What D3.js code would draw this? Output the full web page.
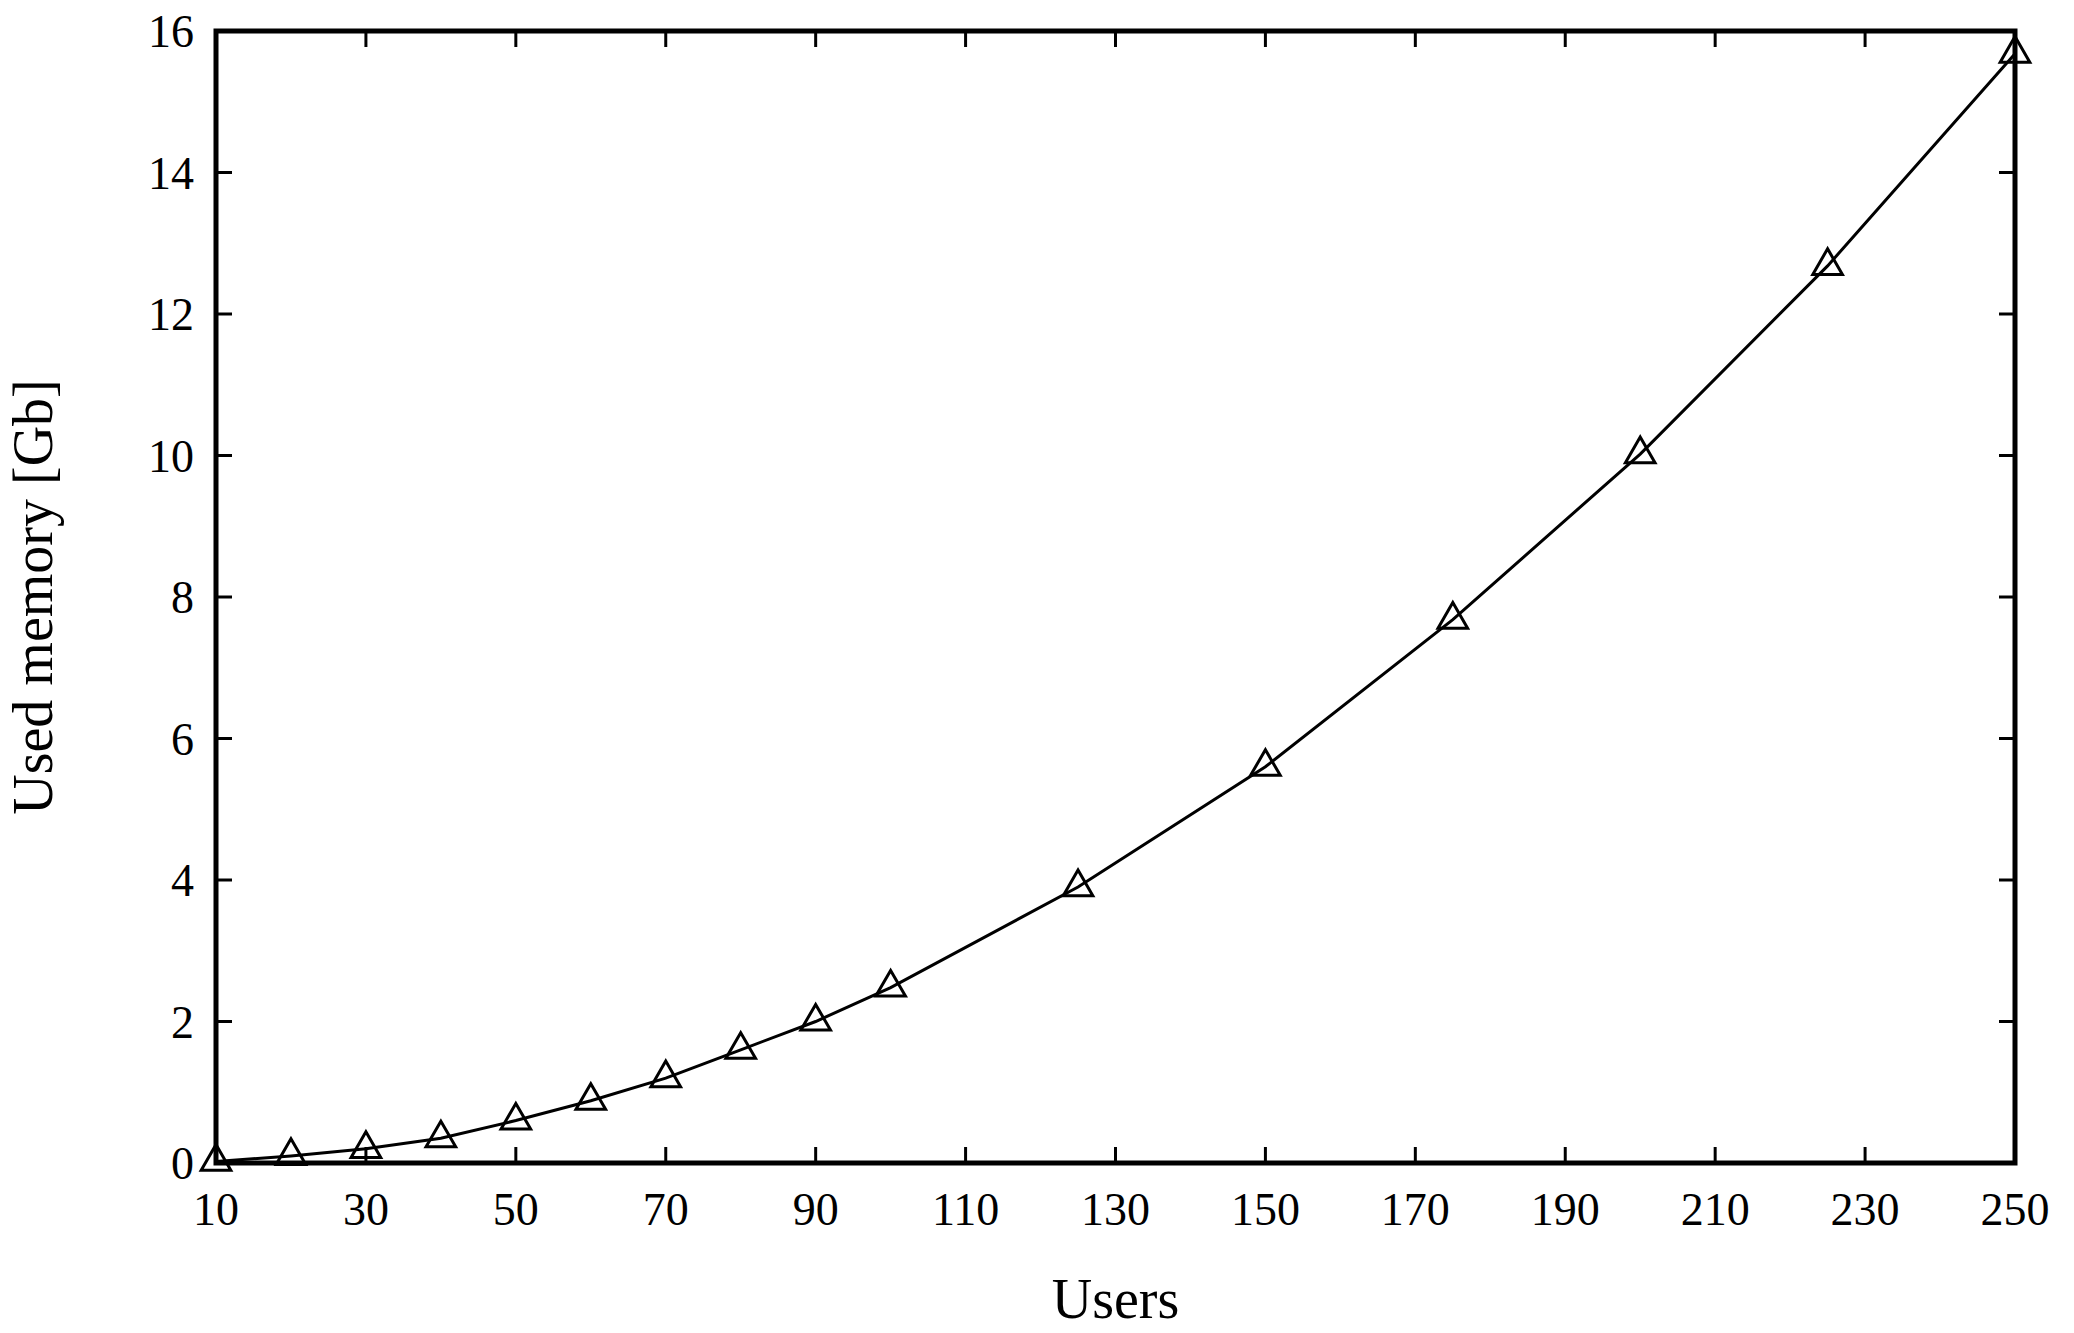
<!DOCTYPE html>
<html><head><meta charset="utf-8">
<script src="https://cdn.jsdelivr.net/npm/d3@7"></script>
<style>body{margin:0;background:#fff}</style>
</head><body>
<svg id="chart" width="2074" height="1333"></svg>
<script>
const users = [10, 20, 30, 40, 50, 60, 70, 80, 90, 100, 125, 150, 175, 200, 225, 250];
const memory = [0.02, 0.1, 0.2, 0.35, 0.6, 0.88, 1.2, 1.6, 2.0, 2.48, 3.9, 5.6, 7.68, 10.02, 12.68, 15.68];
const xTicks = d3.range(10, 251, 20);
const yTicks = d3.range(0, 17, 2);

const m = { left: 216, right: 2015, top: 31, bottom: 1163 };
const svg = d3.select("#chart").style("font-family", "'Liberation Serif', serif");
const x = d3.scaleLinear().domain([10, 250]).range([m.left, m.right]);
const y = d3.scaleLinear().domain([0, 16]).range([m.bottom, m.top]);
const tl = 16;

// inward ticks on all four sides
const g = svg.append("g").attr("stroke", "#000").attr("stroke-width", 3);
xTicks.forEach(t => {
  g.append("line").attr("x1", x(t)).attr("x2", x(t)).attr("y1", m.bottom).attr("y2", m.bottom - tl);
  g.append("line").attr("x1", x(t)).attr("x2", x(t)).attr("y1", m.top).attr("y2", m.top + tl);
});
yTicks.forEach(t => {
  g.append("line").attr("y1", y(t)).attr("y2", y(t)).attr("x1", m.left).attr("x2", m.left + tl);
  g.append("line").attr("y1", y(t)).attr("y2", y(t)).attr("x1", m.right).attr("x2", m.right - tl);
});

svg.append("g").selectAll("text").data(xTicks).join("text")
  .attr("x", d => x(d)).attr("y", m.bottom + 62).attr("text-anchor", "middle")
  .attr("font-size", 46).text(d => d);
svg.append("g").selectAll("text").data(yTicks).join("text")
  .attr("x", m.left - 22).attr("y", d => y(d) + 16).attr("text-anchor", "end")
  .attr("font-size", 46).text(d => d);

svg.append("text").attr("x", (m.left + m.right) / 2).attr("y", 1318)
  .attr("text-anchor", "middle").attr("font-size", 56).text("Users");
svg.append("text").attr("transform", `translate(52,${(m.top + m.bottom) / 2}) rotate(-90)`)
  .attr("text-anchor", "middle").attr("font-size", 56).text("Used memory [Gb]");

const line = d3.line().x((d, i) => x(users[i])).y(d => y(d));
svg.append("path").datum(memory).attr("d", line)
  .attr("fill", "none").attr("stroke", "#000").attr("stroke-width", 3);

const tri = d3.symbol().type(d3.symbolTriangle).size(380);
svg.append("g").selectAll("path").data(memory).join("path")
  .attr("transform", (d, i) => `translate(${x(users[i])},${y(d)})`)
  .attr("d", tri).attr("fill", "none").attr("stroke", "#000").attr("stroke-width", 3);

svg.append("rect").attr("x", m.left).attr("y", m.top)
  .attr("width", m.right - m.left).attr("height", m.bottom - m.top)
  .attr("fill", "none").attr("stroke", "#000").attr("stroke-width", 5);
</script>
</body></html>
